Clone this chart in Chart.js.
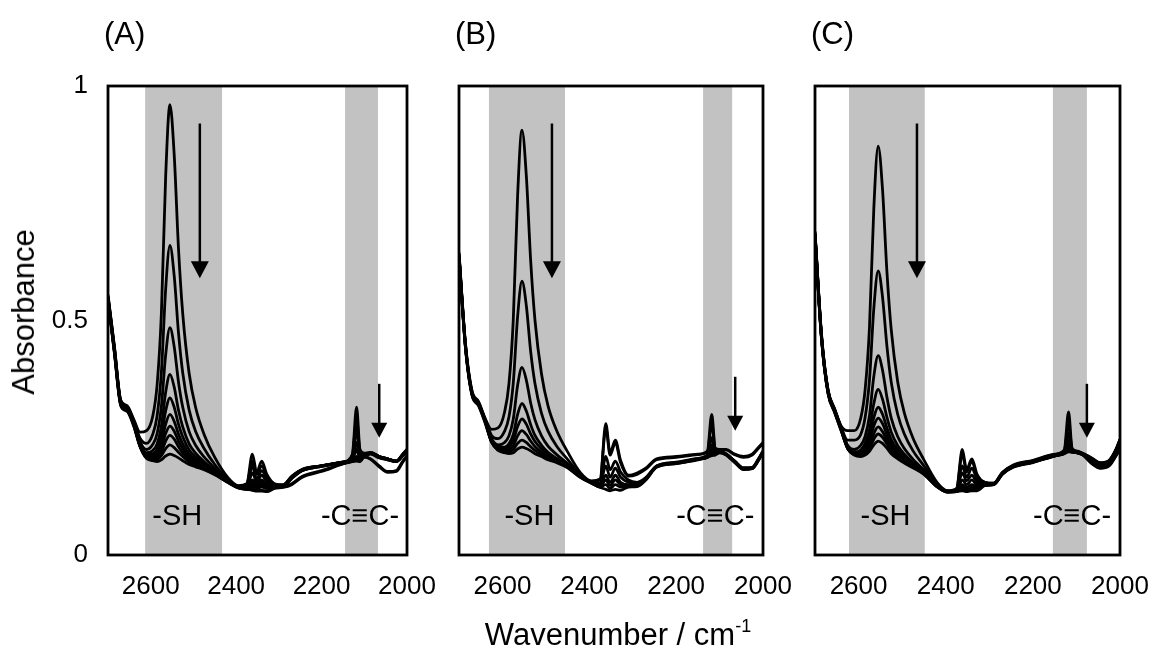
<!DOCTYPE html>
<html>
<head>
<meta charset="utf-8">
<script src="https://cdn.jsdelivr.net/npm/chart.js@4.4.0/dist/chart.umd.min.js"></script>
<style>
  body { margin: 0; background: #fff; width: 1151px; height: 659px; position: relative; overflow: hidden;
         font-family: "Liberation Sans", Arial, sans-serif; }
  canvas { position: absolute; left: 0; top: 0; }
  .lbl { position: absolute; color: #000; white-space: nowrap; }
  .panel { font-size: 31px; top: 16px; }
  .ytitle { font-size: 31px; left: 24px; top: 312px; transform: translate(-50%, -50%) rotate(-90deg); }
  .xtitle { font-size: 31px; left: 618px; top: 634px; transform: translate(-50%, -50%); }
  .xtitle sup { font-size: 18px; vertical-align: 13px; }
</style>
</head>
<body>
<canvas id="chartA" width="1151" height="659"></canvas>
<canvas id="chartB" width="1151" height="659"></canvas>
<canvas id="chartC" width="1180" height="659"></canvas>
<div class="lbl panel" style="left:104px">(A)</div>
<div class="lbl panel" style="left:455px">(B)</div>
<div class="lbl panel" style="left:811px">(C)</div>
<div class="lbl ytitle">Absorbance</div>
<div class="lbl xtitle">Wavenumber / cm<sup>-1</sup></div>
<script>
// wavenumber grid (cm-1) shared by all spectra
var wavenumbers = [2700, 2685, 2670, 2655, 2640, 2625, 2610, 2595, 2585, 2575, 2565, 2555, 2545, 2535, 2525,
  2510, 2495, 2475, 2450, 2420, 2395, 2375, 2362, 2352, 2340, 2328, 2310, 2290, 2270, 2245, 2200,
  2150, 2128, 2118, 2110, 2100, 2085, 2065, 2045, 2025, 2010, 2000];
var xTicks = [2600, 2400, 2200, 2000];
var yTicks = [0, 0.5, 1];

// (A) spectra, largest -SH peak first
var specA1 = [.555,.445,.33,.318,.29,.262,.265,.297,.363,.516,.807,.96,.853,.654,.514,.387,.315,.257,.208,.166,.148,.152,.20,.172,.19,.167,.15,.15,.168,.183,.19,.198,.215,.315,.225,.217,.218,.21,.205,.2,.215,.225];
var specA2 = [.552,.442,.328,.316,.287,.249,.238,.258,.297,.39,.567,.66,.595,.474,.388,.309,.264,.227,.193,.162,.147,.152,.215,.177,.2,.172,.152,.149,.167,.182,.19,.198,.212,.29,.22,.216,.218,.21,.205,.2,.215,.225];
var specA3 = [.55,.44,.326,.314,.285,.242,.225,.236,.259,.317,.427,.485,.444,.369,.315,.263,.234,.209,.185,.159,.146,.147,.19,.162,.18,.162,.15,.148,.166,.182,.19,.198,.208,.265,.214,.214,.218,.21,.205,.2,.214,.224];
var specA4 = [.55,.44,.325,.313,.283,.238,.218,.223,.237,.275,.347,.385,.358,.309,.273,.237,.217,.199,.18,.158,.146,.144,.175,.156,.17,.156,.148,.148,.165,.181,.19,.198,.205,.24,.209,.214,.217,.21,.205,.2,.214,.224];
var specA5 = [.548,.438,.324,.312,.282,.236,.215,.216,.226,.254,.307,.335,.315,.279,.252,.224,.209,.194,.177,.157,.145,.142,.16,.15,.16,.15,.147,.147,.165,.181,.19,.198,.202,.225,.206,.213,.217,.209,.204,.2,.213,.223];
var specA6 = [.548,.436,.323,.311,.281,.234,.212,.212,.218,.239,.279,.30,.285,.258,.237,.215,.203,.19,.175,.157,.145,.142,.155,.148,.155,.148,.147,.147,.164,.18,.19,.197,.201,.21,.204,.212,.216,.208,.204,.2,.212,.222];
var specA7 = [.546,.435,.322,.31,.28,.233,.211,.208,.213,.229,.259,.275,.264,.243,.227,.209,.199,.188,.174,.156,.144,.142,.15,.145,.15,.145,.146,.146,.164,.18,.189,.197,.2,.205,.203,.212,.216,.208,.203,.199,.212,.222];
var specA8 = [.545,.434,.321,.309,.279,.232,.209,.206,.208,.22,.243,.255,.247,.231,.218,.204,.195,.186,.173,.156,.144,.14,.145,.142,.145,.142,.145,.146,.163,.18,.189,.197,.2,.203,.202,.211,.215,.207,.203,.199,.211,.221];
var specA9 = [.545,.432,.32,.308,.277,.232,.208,.203,.204,.212,.227,.235,.229,.219,.21,.198,.192,.184,.172,.155,.143,.14,.14,.138,.138,.137,.143,.145,.152,.168,.18,.195,.2,.202,.2,.21,.205,.19,.178,.18,.2,.212];
var specA10 = [.544,.43,.318,.306,.275,.231,.206,.201,.199,.203,.211,.215,.212,.207,.201,.193,.188,.182,.171,.155,.143,.14,.138,.136,.136,.135,.142,.144,.15,.166,.178,.194,.199,.2,.199,.209,.204,.188,.176,.178,.198,.21];

// (B) spectra
var specB1 = [.645,.45,.35,.327,.292,.268,.271,.305,.365,.502,.767,.906,.809,.628,.5,.386,.318,.265,.22,.175,.158,.162,.28,.218,.245,.202,.17,.175,.185,.205,.21,.215,.222,.30,.228,.225,.225,.215,.21,.215,.23,.24];
var specB2 = [.643,.448,.348,.326,.29,.255,.248,.264,.294,.367,.509,.584,.532,.434,.365,.302,.264,.232,.204,.171,.157,.16,.27,.213,.24,.197,.168,.172,.183,.203,.208,.214,.22,.28,.225,.224,.224,.214,.208,.213,.228,.238];
var specB3 = [.64,.446,.346,.324,.288,.248,.235,.24,.254,.29,.362,.40,.373,.324,.288,.254,.232,.214,.195,.168,.155,.153,.21,.182,.2,.177,.16,.155,.165,.19,.198,.206,.213,.25,.22,.222,.216,.2,.186,.187,.206,.222];
var specB4 = [.64,.445,.345,.323,.287,.245,.23,.23,.237,.257,.30,.323,.307,.278,.255,.234,.219,.206,.191,.167,.155,.151,.19,.166,.185,.166,.155,.152,.163,.19,.197,.205,.21,.235,.217,.221,.215,.2,.185,.186,.205,.221];
var specB5 = [.638,.444,.344,.322,.286,.243,.228,.225,.23,.244,.274,.29,.279,.258,.242,.226,.214,.203,.189,.166,.154,.148,.17,.155,.17,.155,.15,.15,.162,.189,.196,.205,.209,.225,.216,.22,.215,.2,.184,.185,.204,.22];
var specB6 = [.637,.443,.343,.321,.285,.242,.226,.222,.224,.233,.254,.265,.257,.243,.231,.219,.209,.2,.188,.166,.154,.146,.16,.148,.16,.15,.148,.148,.161,.188,.196,.204,.209,.22,.215,.22,.214,.199,.183,.185,.204,.22];
var specB7 = [.636,.442,.342,.32,.284,.241,.224,.22,.22,.225,.238,.245,.24,.231,.223,.214,.206,.199,.187,.166,.153,.145,.15,.142,.15,.145,.146,.147,.16,.188,.195,.204,.208,.215,.214,.219,.214,.198,.183,.184,.203,.219];
var specB8 = [.635,.44,.34,.318,.282,.24,.223,.218,.216,.218,.226,.23,.227,.222,.216,.21,.203,.197,.186,.165,.153,.144,.14,.137,.14,.138,.145,.146,.16,.187,.195,.203,.208,.212,.213,.218,.213,.197,.182,.184,.202,.218];

// (C) spectra
var specC1 = [.69,.47,.352,.312,.275,.265,.265,.292,.352,.485,.739,.872,.779,.605,.48,.368,.303,.249,.203,.155,.137,.142,.225,.182,.205,.172,.155,.153,.176,.192,.202,.215,.224,.305,.228,.222,.217,.207,.197,.202,.224,.247];
var specC2 = [.688,.468,.351,.311,.273,.245,.245,.257,.293,.373,.526,.606,.55,.446,.368,.299,.258,.222,.19,.151,.136,.141,.215,.177,.2,.167,.155,.153,.176,.191,.201,.214,.222,.28,.226,.221,.216,.206,.196,.201,.223,.246];
var specC3 = [.686,.466,.35,.31,.271,.234,.225,.234,.253,.297,.381,.425,.394,.337,.292,.252,.227,.204,.181,.148,.136,.139,.19,.166,.185,.162,.153,.152,.175,.19,.2,.214,.221,.26,.224,.221,.216,.206,.196,.2,.222,.245];
var specC4 = [.685,.465,.349,.309,.27,.231,.22,.224,.238,.267,.323,.353,.332,.294,.262,.233,.215,.197,.177,.147,.135,.137,.175,.158,.17,.155,.152,.152,.174,.19,.2,.213,.218,.245,.222,.22,.215,.205,.195,.2,.222,.244];
var specC5 = [.684,.464,.348,.308,.269,.229,.218,.219,.229,.251,.293,.315,.30,.271,.246,.224,.209,.193,.176,.147,.135,.136,.16,.15,.16,.15,.151,.151,.174,.189,.199,.213,.218,.235,.221,.22,.215,.205,.194,.199,.221,.243];
var specC6 = [.683,.463,.347,.307,.268,.228,.216,.216,.224,.242,.275,.292,.28,.257,.237,.218,.205,.191,.174,.146,.135,.136,.15,.145,.15,.146,.15,.151,.173,.189,.199,.212,.217,.228,.221,.219,.214,.2,.19,.195,.215,.235];
var specC7 = [.682,.462,.346,.306,.267,.228,.215,.214,.22,.234,.259,.273,.263,.246,.229,.213,.202,.189,.173,.146,.134,.135,.145,.14,.145,.143,.15,.15,.173,.188,.198,.212,.217,.225,.22,.219,.214,.198,.188,.193,.213,.232];
var specC8 = [.68,.461,.345,.305,.266,.227,.214,.212,.217,.227,.247,.258,.251,.237,.222,.209,.199,.187,.173,.146,.134,.135,.14,.137,.14,.14,.149,.15,.172,.188,.198,.211,.216,.222,.22,.218,.213,.196,.186,.191,.211,.228];
var specC9 = [.678,.46,.344,.304,.265,.227,.213,.21,.213,.221,.235,.243,.238,.228,.216,.205,.196,.186,.172,.146,.134,.135,.137,.135,.137,.137,.148,.15,.172,.187,.197,.211,.216,.22,.219,.218,.213,.195,.185,.19,.21,.225];

// shaded regions [from, to] in cm-1
var bandsA = [[2613, 2433], [2145, 2068]];
var bandsB = [[2631, 2456], [2138, 2071]];
var bandsC = [[2622, 2448], [2154, 2076]];
// arrows [wavenumber, start absorbance, tip absorbance]
var arrowsA = [[2485, 0.92, 0.59], [2065, 0.365, 0.25]];
var arrowsB = [[2486, 0.92, 0.59], [2064, 0.38, 0.265]];
var arrowsC = [[2466, 0.92, 0.59], [2076, 0.365, 0.25]];
var bandLabels = [["-SH", 2538, 0.08], ["-C\u2261C-", 2110, 0.08]];

Chart.defaults.font.family = '"Liberation Sans", Arial, sans-serif';
Chart.defaults.color = '#000';

var decor = {
  id: 'decor',
  beforeDatasetsDraw: function(chart, args, opts) {
    var ctx = chart.ctx, a = chart.chartArea, x = chart.scales.x;
    ctx.save();
    ctx.fillStyle = '#c2c2c2';
    opts.bands.forEach(function(b) {
      var x1 = x.getPixelForValue(b[0]), x2 = x.getPixelForValue(b[1]);
      ctx.fillRect(x1, a.top, x2 - x1, a.bottom - a.top);
    });
    ctx.restore();
  },
  afterDatasetsDraw: function(chart, args, opts) {
    var ctx = chart.ctx, a = chart.chartArea, x = chart.scales.x, y = chart.scales.y;
    ctx.save();
    ctx.fillStyle = '#000';
    ctx.font = '29px "Liberation Sans", Arial, sans-serif';
    ctx.textAlign = 'center';
    ctx.textBaseline = 'middle';
    bandLabels.forEach(function(l) {
      ctx.fillText(l[0], x.getPixelForValue(l[1]), y.getPixelForValue(l[2]));
    });
    ctx.strokeStyle = '#000';
    ctx.lineWidth = 2.5;
    opts.arrows.forEach(function(ar, i) {
      var px = x.getPixelForValue(ar[0]);
      var y1 = y.getPixelForValue(ar[1]), y2 = y.getPixelForValue(ar[2]);
      var hl = i == 0 ? 17 : 15, hw = i == 0 ? 9 : 8;
      ctx.beginPath();
      ctx.moveTo(px, y1);
      ctx.lineTo(px, y2 - hl + 2);
      ctx.stroke();
      ctx.beginPath();
      ctx.moveTo(px - hw, y2 - hl);
      ctx.lineTo(px + hw, y2 - hl);
      ctx.lineTo(px, y2);
      ctx.closePath();
      ctx.fill();
    });
    ctx.lineWidth = 2.8;
    ctx.strokeRect(a.left, a.top, a.right - a.left, a.bottom - a.top);
    ctx.restore();
  }
};

function makePanel(id, series, bands, arrows, padLeft, padRight, showY) {
  new Chart(document.getElementById(id), {
    type: 'line',
    data: {
      datasets: series.map(function(s) {
        return {
          data: wavenumbers.map(function(w, i) { return { x: w, y: s[i] }; }),
          borderColor: '#000',
          borderWidth: 2.8,
          pointRadius: 0,
          fill: false,
          cubicInterpolationMode: 'monotone'
        };
      })
    },
    options: {
      responsive: false,
      animation: false,
      devicePixelRatio: 1,
      events: [],
      layout: { padding: { left: padLeft, right: padRight, top: 86, bottom: 0 } },
      plugins: { legend: { display: false }, tooltip: { enabled: false }, decor: { bands: bands, arrows: arrows } },
      scales: {
        x: {
          type: 'linear', reverse: true, min: 2000, max: 2700,
          grid: { display: false, drawTicks: false }, border: { display: false },
          afterBuildTicks: function(s) { s.ticks = xTicks.map(function(v) { return { value: v }; }); },
          afterFit: function(s) { s.height = 104; },
          ticks: { font: { size: 26 }, padding: 16, maxRotation: 0, autoSkip: false,
                   callback: function(v) { return String(v); } }
        },
        y: {
          display: showY, min: 0, max: 1,
          grid: { display: false, drawTicks: false }, border: { display: false },
          afterBuildTicks: function(s) { s.ticks = yTicks.map(function(v) { return { value: v }; }); },
          afterFit: function(s) { if (showY) s.width = 108; else s.width = 0; },
          ticks: { font: { size: 26 }, padding: 20, callback: function(v) { return String(v); } }
        }
      }
    },
    plugins: [decor]
  });
}

makePanel('chartA', [specA1, specA2, specA3, specA4, specA5, specA6, specA7, specA8, specA9, specA10], bandsA, arrowsA, 0, 744, true);
makePanel('chartB', [specB1, specB2, specB3, specB4, specB5, specB6, specB7, specB8], bandsB, arrowsB, 459, 388, false);
makePanel('chartC', [specC1, specC2, specC3, specC4, specC5, specC6, specC7, specC8, specC9], bandsC, arrowsC, 815, 60, false);
</script>
</body>
</html>
